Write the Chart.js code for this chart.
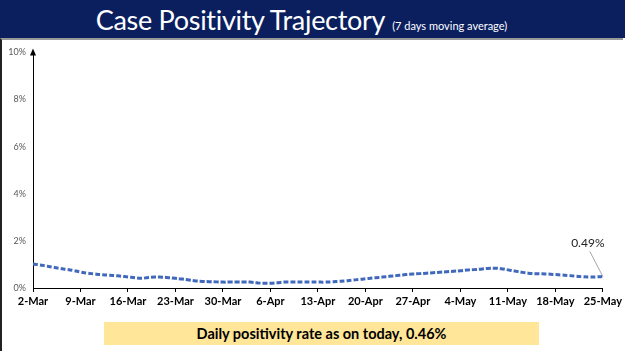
<!DOCTYPE html>
<html lang="en">
<head>
  <meta charset="UTF-8" />
  <title>Case Positivity Trajectory</title>
  <script src="https://cdn.jsdelivr.net/npm/chart.js"></script>
  <style>
    body {
      margin: 0;
      padding: 0;
      width: 625px;
      height: 351px;
      overflow: hidden;
      background: #fff;
      font-family: 'Lato', sans-serif;
      position: relative;
    }
    #header {
      position: absolute;
      left: 0; top: 0;
      width: 625px; height: 38px;
      background: #0b1f5f;
      color: #fff;
      box-sizing: border-box;
      padding-right: 22px;
      text-align: center;
      line-height: 40px;
      white-space: nowrap;
    }
    #header .main { font-size: 27px; letter-spacing: -0.3px; }
    #header .sub { font-size: 11px; margin-left: 7px; }
    #frame {
      position: absolute;
      left: 0; top: 38px;
      width: 623px; height: 313px;
      border-left: 2px solid #222;
      border-top: 2px solid #9a9a9a;
      box-sizing: border-box;
    }
    #chartBox {
      position: absolute;
      left: 0; top: 40px;
      width: 625px; height: 272px;
    }
    #note {
      position: absolute;
      left: 104px; top: 322px;
      width: 435px; height: 23px;
      background: #ffe699;
      text-align: center;
      font-weight: bold;
      font-size: 14.5px;
      line-height: 23px;
      color: #000;
    }
  </style>
</head>
<body>
  <div id="header"><span class="main">Case Positivity Trajectory</span><span class="sub">(7 days moving average)</span></div>
  <div id="frame"></div>
  <div id="chartBox"><canvas id="myChart" width="625" height="272"></canvas></div>
  <div id="note">Daily positivity rate as on today, 0.46%</div>

  <script>
    // weekly tick labels, one every 7 days starting 2-Mar
    const tickLabels = ['2-Mar', '9-Mar', '16-Mar', '23-Mar', '30-Mar', '6-Apr', '13-Apr',
      '20-Apr', '27-Apr', '4-May', '11-May', '18-May', '25-May'];

    // 7-day moving average positivity (%), one value per day 2-Mar .. 25-May
    const positivity = [
      1.02, 0.98, 0.93, 0.88, 0.83, 0.79, 0.74,
      0.68, 0.63, 0.60, 0.57, 0.55, 0.53, 0.50,
      0.47, 0.44, 0.41, 0.45, 0.47, 0.46, 0.44,
      0.41, 0.38, 0.34, 0.30, 0.28, 0.27, 0.26,
      0.25, 0.25, 0.25, 0.25, 0.25, 0.22, 0.20,
      0.20, 0.22, 0.25, 0.25, 0.25, 0.25, 0.25,
      0.25, 0.25, 0.26, 0.28, 0.30, 0.33, 0.36,
      0.39, 0.42, 0.45, 0.48, 0.51, 0.54, 0.57,
      0.59, 0.61, 0.63, 0.65, 0.67, 0.69, 0.71,
      0.73, 0.76, 0.78, 0.80, 0.83, 0.84, 0.82,
      0.77, 0.72, 0.67, 0.63, 0.61, 0.60, 0.59,
      0.57, 0.55, 0.53, 0.50, 0.48, 0.47, 0.47,
      0.49
    ];
    const lastLabel = '0.49%';

    const points = positivity.map((v, i) => ({ x: i, y: v }));

    // arrow on the y axis and the call-out for the latest value
    const extras = {
      id: 'extras',
      afterDraw(chart) {
        const c = chart.ctx;
        const xs = chart.scales.x, ys = chart.scales.y;
        const ax = xs.left, top = ys.top;
        c.save();
        c.fillStyle = '#000';
        c.beginPath();
        c.moveTo(ax, top - 4);
        c.lineTo(ax - 3, top + 3);
        c.lineTo(ax + 3, top + 3);
        c.closePath();
        c.fill();

        const li = positivity.length - 1;
        const px = xs.getPixelForValue(li);
        const py = ys.getPixelForValue(positivity[li]);
        c.strokeStyle = '#a6a6a6';
        c.lineWidth = 1;
        c.beginPath();
        c.moveTo(px, py);
        c.lineTo(px - 13, py - 25);
        c.stroke();
        c.fillStyle = '#222';
        c.font = '12px Lato';
        c.textAlign = 'center';
        c.textBaseline = 'bottom';
        c.fillText(lastLabel, px - 15, py - 27);
        c.restore();
      }
    };

    const ctx = document.getElementById('myChart').getContext('2d');
    const chart = new Chart(ctx, {
      type: 'line',
      data: {
        datasets: [{
          data: points,
          borderColor: '#4068bc',
          borderWidth: 3,
          borderDash: [5, 2],
          borderCapStyle: 'butt',
          tension: 0.4,
          pointRadius: 0,
          fill: false
        }]
      },
      options: {
        responsive: false,
        animation: false,
        layout: { padding: { top: 12, right: 21, left: 0, bottom: 0 } },
        plugins: {
          legend: { display: false },
          tooltip: { enabled: false }
        },
        scales: {
          x: {
            type: 'linear',
            min: 0,
            max: positivity.length - 1,
            afterFit: s => { s.height = 24; },
            grid: {
              drawOnChartArea: false,
              drawTicks: true,
              tickLength: 4,
              tickColor: '#000'
            },
            border: { color: '#000', width: 1 },
            ticks: {
              stepSize: 7,
              autoSkip: false,
              maxRotation: 0,
              padding: 3,
              color: '#000',
              font: { family: 'Lato', size: 11, weight: 'bold' },
              callback: v => tickLabels[v / 7]
            }
          },
          y: {
            min: 0,
            max: 10,
            afterFit: s => { s.width = 33; },
            grid: { drawOnChartArea: false, drawTicks: false },
            border: { color: '#000', width: 1 },
            ticks: {
              stepSize: 2,
              padding: 7,
              color: '#595959',
              font: { family: 'Lato', size: 9 },
              callback: v => v + '%'
            }
          }
        }
      },
      plugins: [extras]
    });
  </script>
</body>
</html>
